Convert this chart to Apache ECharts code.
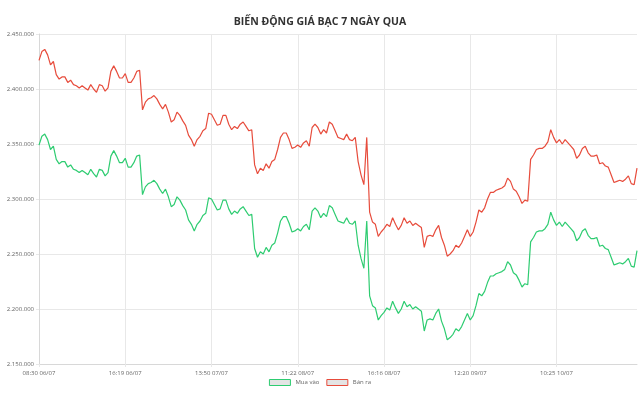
<!DOCTYPE html>
<html>
<head>
<meta charset="utf-8">
<script src="https://cdn.jsdelivr.net/npm/echarts@6/dist/echarts.min.js"></script>
<style>
html,body{margin:0;padding:0;background:#fff;}
#chart{width:640px;height:400px;}
</style>
</head>
<body>
<div id="chart"></div>
<script>
var chartTitle = 'BIẾN ĐỘNG GIÁ BẠC 7 NGÀY QUA';
var seriesNames = ['Mua vào', 'Bán ra'];
var tickLabels = ['08:30 06/07', '16:19 06/07', '13:50 07/07', '11:22 08/07', '16:16 08/07', '12:20 09/07', '10:25 10/07'];
var tickEvery = 30;

var sellPrices = [
2426000,2434000,2436000,2431000,2422000,2425000,2413000,2409000,2411000,2411000,
2406000,2408000,2404000,2403000,2401000,2403000,2401000,2399000,2404000,2400000,
2397000,2404000,2403000,2398000,2401000,2416000,2421000,2416000,2410000,2410000,
2414000,2406000,2406000,2410000,2416000,2417000,2381000,2388000,2391000,2392000,
2394000,2391000,2386000,2382000,2386000,2379000,2370000,2372000,2379000,2376000,
2371000,2367000,2358000,2354000,2348000,2354000,2357000,2362000,2364000,2378000,
2377000,2372000,2367000,2368000,2376000,2376000,2368000,2363000,2366000,2364000,
2368000,2370000,2366000,2362000,2363000,2331000,2323000,2328000,2326000,2332000,
2328000,2334000,2336000,2345000,2356000,2360000,2360000,2354000,2346000,2347000,
2349000,2347000,2351000,2353000,2348000,2365000,2368000,2365000,2359000,2363000,
2360000,2370000,2368000,2362000,2356000,2355000,2354000,2359000,2354000,2353000,
2356000,2334000,2322000,2313000,2356000,2288000,2279000,2277000,2266000,2270000,
2273000,2277000,2275000,2283000,2277000,2272000,2276000,2283000,2278000,2280000,
2276000,2278000,2276000,2274000,2256000,2266000,2267000,2266000,2272000,2276000,
2265000,2258000,2248000,2250000,2253000,2258000,2256000,2260000,2266000,2272000,
2266000,2270000,2279000,2290000,2288000,2292000,2300000,2306000,2306000,2308000,
2309000,2310000,2312000,2319000,2316000,2309000,2307000,2302000,2296000,2299000,
2298000,2336000,2340000,2345000,2346000,2346000,2348000,2352000,2363000,2356000,
2351000,2354000,2350000,2354000,2351000,2348000,2345000,2337000,2340000,2346000,
2348000,2342000,2339000,2339000,2340000,2332000,2333000,2330000,2329000,2322000,
2315000,2316000,2317000,2316000,2318000,2321000,2314000,2313000,2328000
];

var buyPrices = [
2349000,2357000,2359000,2354000,2345000,2348000,2336000,2332000,2334000,2334000,
2329000,2331000,2327000,2326000,2324000,2326000,2324000,2322000,2327000,2323000,
2320000,2327000,2326000,2321000,2324000,2339000,2344000,2339000,2333000,2333000,
2337000,2329000,2329000,2333000,2339000,2340000,2304000,2311000,2314000,2315000,
2317000,2314000,2309000,2305000,2309000,2302000,2293000,2295000,2302000,2299000,
2294000,2290000,2281000,2277000,2271000,2277000,2280000,2285000,2287000,2301000,
2300000,2295000,2290000,2291000,2299000,2299000,2291000,2286000,2289000,2287000,
2291000,2293000,2289000,2285000,2286000,2255000,2247000,2252000,2250000,2256000,
2252000,2258000,2260000,2269000,2280000,2284000,2284000,2278000,2270000,2271000,
2273000,2271000,2275000,2277000,2272000,2289000,2292000,2289000,2283000,2287000,
2284000,2294000,2292000,2286000,2280000,2279000,2278000,2283000,2278000,2277000,
2280000,2258000,2246000,2237000,2280000,2212000,2203000,2201000,2190000,2194000,
2197000,2201000,2199000,2207000,2201000,2196000,2200000,2207000,2202000,2204000,
2200000,2202000,2200000,2198000,2180000,2190000,2191000,2190000,2196000,2200000,
2189000,2182000,2172000,2174000,2177000,2182000,2180000,2184000,2190000,2196000,
2190000,2194000,2203000,2214000,2212000,2216000,2224000,2230000,2230000,2232000,
2233000,2234000,2236000,2243000,2240000,2233000,2231000,2226000,2220000,2223000,
2222000,2261000,2265000,2270000,2271000,2271000,2273000,2277000,2288000,2281000,
2276000,2279000,2275000,2279000,2276000,2273000,2270000,2262000,2265000,2271000,
2273000,2267000,2264000,2264000,2265000,2257000,2258000,2255000,2254000,2247000,
2240000,2241000,2242000,2241000,2243000,2246000,2239000,2238000,2253000
];

var yMin = 2150000, yMax = 2450000, yStep = 50000;

var categories = [];
for (var i = 0; i < sellPrices.length; i++) {
  categories.push(i % tickEvery === 0 && tickLabels[i / tickEvery] ? tickLabels[i / tickEvery] : String(i));
}

function fmt(v) {
  return String(v).replace(/\B(?=(\d{3})+(?!\d))/g, '.');
}

var gridColor = '#e8e8e8';
var chart = echarts.init(document.getElementById('chart'), null, {renderer: 'canvas'});
chart.setOption({
  animation: false,
  backgroundColor: '#fff',
  title: {
    text: chartTitle,
    left: 'center',
    top: 12,
    textStyle: {fontFamily: 'Open Sans', fontSize: 10.5, fontWeight: 'bold', color: '#333'}
  },
  legend: {
    bottom: 9,
    left: 'center',
    itemWidth: 21,
    itemHeight: 6,
    itemGap: 7,
    itemTextGap: 4,
    icon: 'rect',
    textStyle: {fontFamily: 'Open Sans', fontSize: 6, color: '#666'},
    data: [
      {name: seriesNames[0], itemStyle: {color: '#e4e4e4', borderColor: '#2ecc71', borderWidth: 1}},
      {name: seriesNames[1], itemStyle: {color: '#e4e4e4', borderColor: '#e74c3c', borderWidth: 1}}
    ]
  },
  grid: {left: 39, right: 3, top: 34, bottom: 36, containLabel: false},
  xAxis: {
    type: 'category',
    data: categories,
    boundaryGap: false,
    axisLine: {show: true, lineStyle: {color: '#d8d8d8'}},
    axisTick: {show: true, length: 3, interval: tickEvery - 1, lineStyle: {color: gridColor}},
    axisLabel: {interval: tickEvery - 1, fontFamily: 'Open Sans', fontSize: 6, color: '#666', margin: 6},
    splitLine: {show: true, interval: tickEvery - 1, lineStyle: {color: gridColor}}
  },
  yAxis: {
    type: 'value',
    min: yMin,
    max: yMax,
    interval: yStep,
    axisLine: {show: true, lineStyle: {color: '#d8d8d8'}},
    axisTick: {show: true, length: 3, lineStyle: {color: gridColor}},
    axisLabel: {formatter: fmt, fontFamily: 'Open Sans', fontSize: 6, color: '#666', margin: 5},
    splitLine: {show: true, lineStyle: {color: gridColor}}
  },
  series: [
    {
      name: seriesNames[0], type: 'line', data: buyPrices, showSymbol: false,
      color: '#2ecc71', lineStyle: {width: 1.2, color: '#2ecc71'}
    },
    {
      name: seriesNames[1], type: 'line', data: sellPrices, showSymbol: false,
      color: '#e74c3c', lineStyle: {width: 1.2, color: '#e74c3c'}
    }
  ]
});
</script>
</body>
</html>
